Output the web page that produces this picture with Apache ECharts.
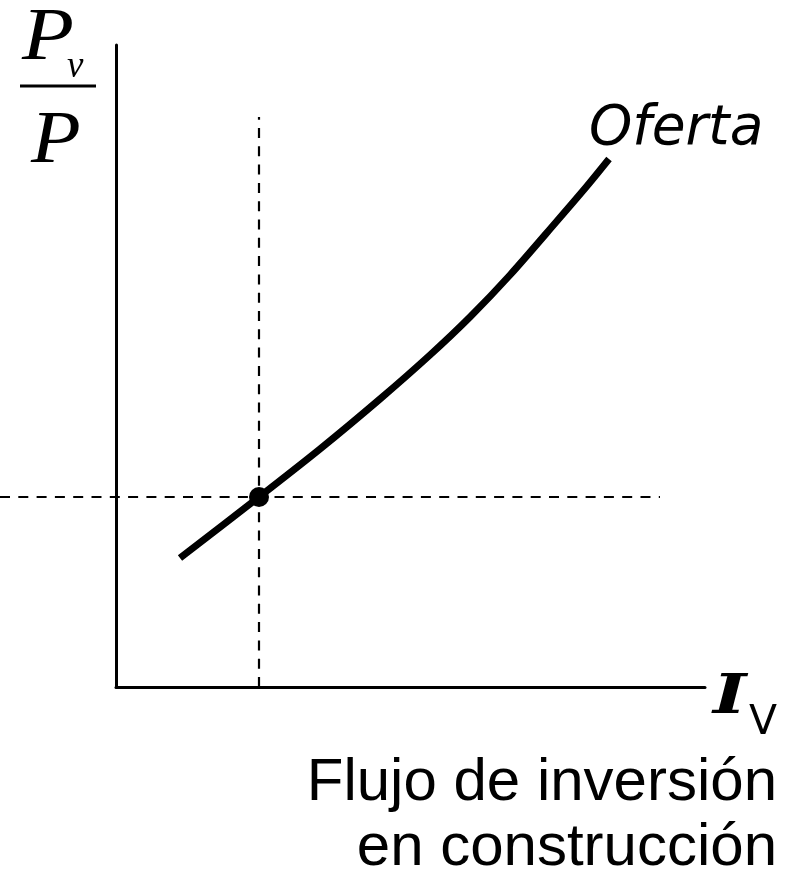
<!DOCTYPE html>
<html>
<head>
<meta charset="utf-8">
<script src="https://cdn.jsdelivr.net/npm/echarts@6/dist/echarts.min.js"></script>
<style>
html,body{margin:0;padding:0;background:#fff;}
#chart{width:790px;height:872px;}
</style>
</head>
<body>
<div id="chart"></div>
<script>
// Supply curve (Oferta), in axis units
const curveX = [64, 143, 204, 264, 314, 354, 394, 441, 471, 493];
const curveY = [129, 190, 238, 288, 332, 370, 412, 466, 501, 528];
// Equilibrium point
const eqX = [143];
const eqY = [190];
// Guide line extents (axis units)
const vGuideY = [0, 570];
const hGuideX = [-116, 544];
// Axis ranges
const xRange = [0, 589];
const xRangeWide = [-116, 589];
const yRange = [0, 642];
// Texts
const curveLabel = 'Oferta';
const xLabelMain = 'I';
const xLabelSub = 'V';
const xTitleLines = ['Flujo de inversión', 'en construcción'];
const yLabelTop = 'P';
const yLabelSub = 'v';
const yLabelBottom = 'P';

const chart = echarts.init(document.getElementById('chart'), null, {renderer: 'canvas'});

const dashed = {color: '#000', width: 2.2, type: [10, 8.3]};

function txt(x, y, text, font, extra) {
  return Object.assign({type: 'text', x: x, y: y, style: {x: 0, y: 0, text: text, font: font, fill: '#000'}}, extra || {});
}

const option = {
  animation: false,
  backgroundColor: '#fff',
  grid: [
    {left: 116, right: 85, top: 45, bottom: 185},
    {left: 0, right: 85, top: 45, bottom: 185}
  ],
  xAxis: [
    {
      gridIndex: 0, type: 'value', min: xRange[0], max: xRange[1],
      axisLine: {show: true, onZero: false, lineStyle: {color: '#000', width: 3}},
      axisTick: {show: false}, axisLabel: {show: false}, splitLine: {show: false}
    },
    {gridIndex: 1, type: 'value', min: xRangeWide[0], max: xRangeWide[1], show: false}
  ],
  yAxis: [
    {
      gridIndex: 0, type: 'value', min: yRange[0], max: yRange[1],
      axisLine: {show: true, onZero: false, lineStyle: {color: '#000', width: 3}},
      axisTick: {show: false}, axisLabel: {show: false}, splitLine: {show: false}
    },
    {gridIndex: 1, type: 'value', min: yRange[0], max: yRange[1], show: false}
  ],
  series: [
    {
      type: 'line', symbol: 'none', silent: true, xAxisIndex: 0, yAxisIndex: 0,
      data: vGuideY.map(y => [eqX[0], y]),
      lineStyle: dashed, z: 1
    },
    {
      type: 'line', symbol: 'none', silent: true, xAxisIndex: 1, yAxisIndex: 1,
      data: hGuideX.map(x => [x, eqY[0]]),
      lineStyle: dashed, z: 1
    },
    {
      type: 'line', symbol: 'none', smooth: 0.3, silent: true, xAxisIndex: 0, yAxisIndex: 0,
      data: curveX.map((x, i) => [x, curveY[i]]),
      lineStyle: {color: '#000', width: 7, cap: 'butt'}, z: 2
    },
    {
      type: 'scatter', symbol: 'circle', symbolSize: 20, silent: true, xAxisIndex: 0, yAxisIndex: 0,
      data: eqX.map((x, i) => [x, eqY[i]]),
      itemStyle: {color: '#000', opacity: 1}, z: 3
    }
  ],
  graphic: [
    txt(22, 3, yLabelTop, 'italic 74px "Liberation Serif"', {scaleX: 1.15}),
    txt(67, 49, yLabelSub, 'italic 37px "Liberation Serif"'),
    {type: 'line', shape: {x1: 20, y1: 86, x2: 96, y2: 86}, style: {stroke: '#000', lineWidth: 3}},
    txt(31, 106, yLabelBottom, 'italic 74px "Liberation Serif"', {scaleX: 1.1}),
    txt(589, 102, curveLabel, 'italic 55px "DejaVu Sans"'),
    txt(713, 671, xLabelMain, 'italic bold 55px "DejaVu Serif"', {scaleX: 1.3}),
    txt(749, 703, xLabelSub, '41px "DejaVu Sans"'),
    {type: 'text', x: 777, y: 753, style: {x: 0, y: 0, text: xTitleLines[0], font: '60px "Liberation Sans"', fill: '#000', align: 'right'}},
    {type: 'text', x: 777, y: 818, style: {x: 0, y: 0, text: xTitleLines[1], font: '60px "Liberation Sans"', fill: '#000', align: 'right'}}
  ]
};
chart.setOption(option);
</script>
</body>
</html>
